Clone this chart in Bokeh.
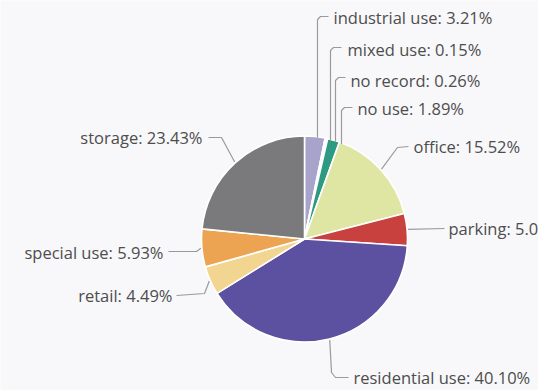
import numpy as np
from bokeh.plotting import figure
from bokeh.models import Range1d, ColumnDataSource
from bokeh.core.properties import value
from bokeh.embed import file_html
from bokeh.resources import INLINE

# ---- data ----
categories = ["industrial use", "mixed use", "no record", "no use", "office",
              "parking", "residential use", "retail", "special use", "storage"]
shares = [3.21, 0.15, 0.26, 1.89, 15.52, 5.02, 40.10, 4.49, 5.93, 23.43]
colors = ["#a7a3cb", "#bfe3dc", "#e6f3f1", "#2f9a82", "#dfe5a3",
          "#c9413f", "#5b51a0", "#f1d590", "#eca352", "#7a7a7c"]

# ---- layout (page pixel coordinates, y downwards) ----
W, H = 538, 390
CX, CY, R = 304, 238.5, 103
BG = "#f8f8fa"
FONT = "Open Sans"
FSIZE = "16.5px"

# per label: text anchor, alignment, vertical-leader x (or None), leader elbows
label_layout = {
    "industrial use": dict(t=(333, 17), align="left", vx=317, pts=[(317, 19), (320, 16), (328, 16)]),
    "mixed use": dict(t=(347, 49), align="left", vx=330, pts=[(330, 50), (333, 47), (341, 47)]),
    "no record": dict(t=(350, 80), align="left", vx=335, pts=[(335, 80), (338, 77), (345, 77)]),
    "no use": dict(t=(357, 108), align="left", vx=341, pts=[(341, 110), (344, 107), (352, 107)]),
    "office": dict(t=(413, 146), align="left", vx=None, pts=[(397, 147), (408, 146)]),
    "parking": dict(t=(448, 228), align="left", vx=None, pts=[(444, 228)]),
    "residential use": dict(t=(353, 377), align="left", vx=None, pts=[(331, 372), (335, 377), (348, 377)]),
    "retail": dict(t=(172, 295), align="right", vx=None, pts=[(204, 293), (176, 295)]),
    "special use": dict(t=(163, 252), align="right", vx=None, pts=[(196, 251), (168, 251)]),
    "storage": dict(t=(202, 137), align="right", vx=None, pts=[(221, 137), (208, 137)]),
}


def tx(x):
    return x


def ty(y):
    return H - y


p = figure(width=W, height=H, output_backend="svg", toolbar_location=None,
           x_range=Range1d(0, W), y_range=Range1d(0, H), min_border=0,
           background_fill_color=BG, border_fill_color=BG, outline_line_color=None)
p.axis.visible = False
p.grid.visible = False

vals = np.array(shares, dtype=float)
frac = vals / vals.sum()
cum = np.concatenate([[0], np.cumsum(frac)])
start = np.pi / 2 - 2 * np.pi * cum[:-1]
end = np.pi / 2 - 2 * np.pi * cum[1:]
mid = (cum[:-1] + cum[1:]) / 2

src = ColumnDataSource(dict(start=start, end=end, color=colors, cat=categories))
p.wedge(x=tx(CX), y=ty(CY), radius=R, start_angle="start", end_angle="end",
        direction="clock", fill_color="color", line_color="white", line_width=1.6,
        source=src)

# leaders and labels
lx, ly = [], []
txt_x, txt_y, txt, aligns = [], [], [], []
for i, cat in enumerate(categories):
    L = label_layout[cat]
    if L["vx"] is not None:
        sx = L["vx"]
        sy = CY - np.sqrt(R ** 2 - (sx - CX) ** 2) + 1
    else:
        a = 2 * np.pi * mid[i]
        sx = CX + (R + 1) * np.sin(a)
        sy = CY - (R + 1) * np.cos(a)
    pts = [(sx, sy)] + L["pts"]
    lx.append([tx(x) for x, _ in pts])
    ly.append([ty(y) for _, y in pts])
    txt_x.append(tx(L["t"][0]))
    txt_y.append(ty(L["t"][1]))
    txt.append(f"{cat}: {shares[i]:.2f}%")
    aligns.append(L["align"])

p.multi_line(xs=lx, ys=ly, line_color="#9a9a9a", line_width=1.2)

tsrc = ColumnDataSource(dict(x=txt_x, y=txt_y, text=txt, align=aligns))
p.text(x="x", y="y", text="text", text_align="align", text_baseline="middle",
       text_font=value(FONT), text_font_size=FSIZE, text_color="#4d4d4d", source=tsrc)

open("out.html", "w").write(file_html(p, INLINE))
